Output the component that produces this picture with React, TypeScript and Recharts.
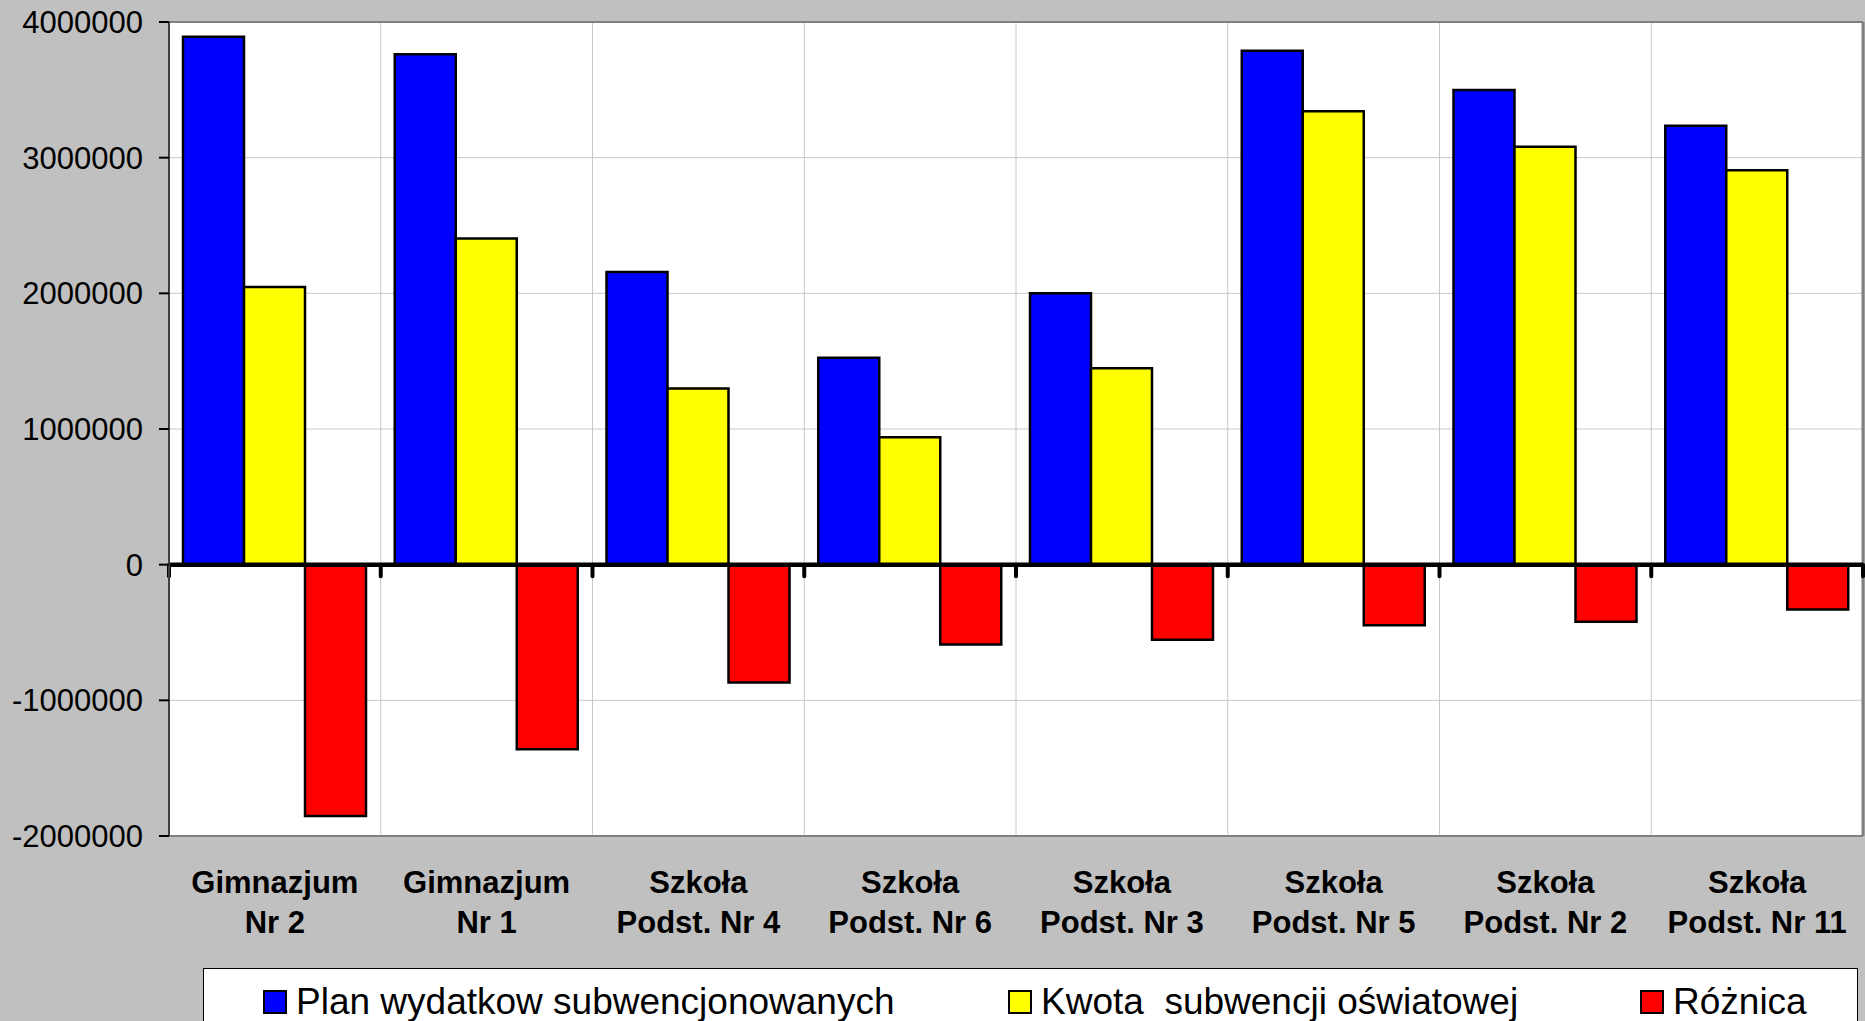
import {
  BarChart,
  Bar,
  XAxis,
  YAxis,
  CartesianGrid,
  ReferenceLine,
} from "recharts";

const CATEGORIES = [
  "Gimnazjum\nNr 2",
  "Gimnazjum\nNr 1",
  "Szkoła\nPodst. Nr 4",
  "Szkoła\nPodst. Nr 6",
  "Szkoła\nPodst. Nr 3",
  "Szkoła\nPodst. Nr 5",
  "Szkoła\nPodst. Nr 2",
  "Szkoła\nPodst. Nr 11",
];

const PLAN = [3892000, 3763000, 2158000, 1526000, 2000000, 3789000, 3498000, 3235000];
const KWOTA = [2047000, 2404000, 1298000, 939000, 1447000, 3342000, 3080000, 2908000];
const ROZNICA = [-1852000, -1360000, -868000, -588000, -553000, -447000, -420000, -330000];

const Y_TICKS = [-2000000, -1000000, 0, 1000000, 2000000, 3000000, 4000000];

const SERIES = [
  { key: "plan", label: "Plan wydatkow subwencjonowanych", color: "#0000ff" },
  { key: "kwota", label: "Kwota  subwencji oświatowej", color: "#ffff00" },
  { key: "roznica", label: "Różnica", color: "#ff0000" },
];

// layout
const W = 1865;
const H = 1021;
const FONT = "'Liberation Sans', Arial, sans-serif";
const LEGEND_LEFT = [262, 1007, 1639];

const data = CATEGORIES.map((name, i) => ({
  name,
  plan: PLAN[i],
  kwota: KWOTA[i],
  roznica: ROZNICA[i],
}));

const LAST = CATEGORIES[CATEGORIES.length - 1];
const Y_MIN = Y_TICKS[0];
const Y_MAX = Y_TICKS[Y_TICKS.length - 1];
const TICK_DEPTH = -85000;

function CategoryTick(props: any) {
  const { x, y, payload } = props;
  const lines = String(payload.value).split("\n");
  return (
    <g>
      {lines.map((l, i) => (
        <text
          key={i}
          x={x}
          y={y + 57 + i * 40}
          textAnchor="middle"
          fontFamily={FONT}
          fontSize={31}
          fontWeight="bold"
          fill="#000"
        >
          {l}
        </text>
      ))}
    </g>
  );
}

export default function App() {
  return (
    <div
      style={{
        position: "absolute",
        left: 0,
        top: 0,
        width: W,
        height: H,
        background: "#c0c0c0",
        overflow: "hidden",
        fontFamily: FONT,
      }}
    >
      <BarChart
        width={W}
        height={H}
        data={data}
        margin={{ top: 22, right: 2, left: 0, bottom: 0 }}
        barCategoryGap={14}
        barGap={0}
      >
        <CartesianGrid
          vertical={false}
          stroke="#c8c8c8"
          strokeWidth={1}
          fill="#ffffff"
          fillOpacity={1}
        />
        {/* vertical grid at category boundaries */}
        {CATEGORIES.map((c) => (
          <ReferenceLine
            key={"g" + c}
            x={c}
            position="start"
            stroke="#c8c8c8"
            strokeWidth={1}
          />
        ))}
        <XAxis
          dataKey="name"
          height={185}
          interval={0}
          tickSize={0}
          tickMargin={0}
          tickLine={false}
          axisLine={{ stroke: "#808080", strokeWidth: 2 }}
          tick={<CategoryTick />}
        />
        <YAxis
          width={169}
          domain={[Y_MIN, Y_MAX]}
          ticks={Y_TICKS}
          interval={0}
          tickSize={10}
          tickMargin={16}
          tickFormatter={(v: number) => String(v)}
          tick={{ fontSize: 31, fill: "#000", fontFamily: FONT }}
          tickLine={{ stroke: "#000", strokeWidth: 2 }}
          axisLine={{ stroke: "#404040", strokeWidth: 2 }}
        />
        {SERIES.map((s) => (
          <Bar
            key={s.key}
            dataKey={s.key}
            name={s.label}
            fill={s.color}
            stroke="#000"
            strokeWidth={2.5}
            isAnimationActive={false}
          />
        ))}
        <ReferenceLine y={Y_MAX} stroke="#808080" strokeWidth={2} />
        <ReferenceLine x={LAST} position="end" stroke="#808080" strokeWidth={3} />
        <ReferenceLine y={0} stroke="#000" strokeWidth={4.5} />
        {/* short ticks hanging below the zero line */}
        {CATEGORIES.map((c) => (
          <ReferenceLine
            key={"t" + c}
            position="start"
            segment={[
              { x: c, y: 0 },
              { x: c, y: TICK_DEPTH },
            ]}
            stroke="#000"
            strokeWidth={4}
            strokeLinecap="round"
          />
        ))}
        <ReferenceLine
          position="end"
          segment={[
            { x: LAST, y: 0 },
            { x: LAST, y: TICK_DEPTH },
          ]}
          stroke="#000"
          strokeWidth={4}
          strokeLinecap="round"
        />
      </BarChart>
      <div
        style={{
          position: "absolute",
          left: 203,
          top: 968,
          width: 1655,
          height: 80,
          background: "#fff",
          border: "1px solid #000",
          boxSizing: "border-box",
        }}
      >
        {SERIES.map((s, i) => (
          <div
            key={s.key}
            style={{
              position: "absolute",
              left: LEGEND_LEFT[i] - 203,
              top: 13,
              display: "flex",
              alignItems: "center",
              whiteSpace: "pre",
              fontSize: 37,
              color: "#000",
              lineHeight: "40px",
            }}
          >
            <span
              style={{
                display: "inline-block",
                width: 20,
                height: 20,
                background: s.color,
                border: "2px solid #000",
                marginRight: 9,
              }}
            />
            {s.label}
          </div>
        ))}
      </div>
    </div>
  );
}
